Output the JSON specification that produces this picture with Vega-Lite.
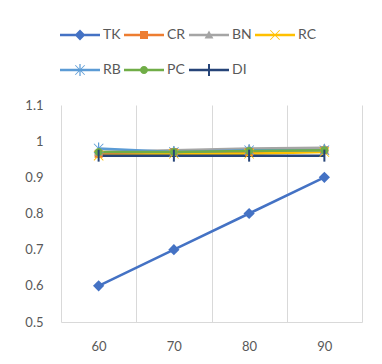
{
  "$schema": "https://vega.github.io/schema/vega-lite/v6.json",
  "width": 301,
  "height": 217,
  "autosize": {"type": "none"},
  "padding": {"left": 61, "top": 105, "right": 20, "bottom": 42},
  "background": "white",
  "data": {
    "values": [
      {"s": "TK", "x": 60, "v": 0.6}, {"s": "TK", "x": 70, "v": 0.7}, {"s": "TK", "x": 80, "v": 0.8}, {"s": "TK", "x": 90, "v": 0.9},
      {"s": "CR", "x": 60, "v": 0.965}, {"s": "CR", "x": 70, "v": 0.97}, {"s": "CR", "x": 80, "v": 0.97}, {"s": "CR", "x": 90, "v": 0.975},
      {"s": "BN", "x": 60, "v": 0.97}, {"s": "BN", "x": 70, "v": 0.975}, {"s": "BN", "x": 80, "v": 0.98}, {"s": "BN", "x": 90, "v": 0.982},
      {"s": "RC", "x": 60, "v": 0.96}, {"s": "RC", "x": 70, "v": 0.965}, {"s": "RC", "x": 80, "v": 0.965}, {"s": "RC", "x": 90, "v": 0.97},
      {"s": "RB", "x": 60, "v": 0.98}, {"s": "RB", "x": 70, "v": 0.97}, {"s": "RB", "x": 80, "v": 0.975}, {"s": "RB", "x": 90, "v": 0.975},
      {"s": "PC", "x": 60, "v": 0.97}, {"s": "PC", "x": 70, "v": 0.97}, {"s": "PC", "x": 80, "v": 0.973}, {"s": "PC", "x": 90, "v": 0.975},
      {"s": "DI", "x": 60, "v": 0.96}, {"s": "DI", "x": 70, "v": 0.96}, {"s": "DI", "x": 80, "v": 0.96}, {"s": "DI", "x": 90, "v": 0.96}
    ]
  },
  "encoding": {
    "x": {
      "field": "x", "type": "ordinal",
      "scale": {"paddingInner": 0, "paddingOuter": 0},
      "axis": {
        "title": null, "labelAngle": 0, "tickBand": "extent", "grid": true, "gridColor": "#d9d9d9", "gridWidth": 1,
        "ticks": false, "domainColor": "#d9d9d9", "labelPadding": 18, "labelColor": "#595959", "labelFontSize": 13, "labelFont": "Lato"
      }
    },
    "y": {
      "field": "v", "type": "quantitative",
      "scale": {"domain": [0.5, 1.1], "zero": false},
      "axis": {
        "title": null, "values": [0.5, 0.6, 0.7, 0.8, 0.9, 1, 1.1], "format": "~g", "grid": false, "domain": false, "ticks": false,
        "labelPadding": 18, "labelColor": "#595959", "labelFontSize": 13, "labelFont": "Lato"
      }
    },
    "color": {
      "field": "s", "type": "nominal",
      "scale": {"domain": ["TK", "CR", "BN", "RC", "RB", "PC", "DI"], "range": ["#4472C4", "#ED7D31", "#A5A5A5", "#FFC000", "#5B9BD5", "#70AD47", "#264478"]},
      "legend": null
    }
  },
  "layer": [
    {
      "mark": {"type": "line", "strokeWidth": 2.5}
    },
    {
      "mark": {"type": "point", "filled": true, "size": 1600, "opacity": 1},
      "encoding": {
        "shape": {
          "field": "s", "type": "nominal",
          "scale": {
            "domain": ["TK", "CR", "BN", "RC", "RB", "PC", "DI"],
            "range": [
              "M0,-0.28L0.28,0L0,0.28L-0.28,0Z",
              "M-0.2,-0.2H0.2V0.2H-0.2Z",
              "M0,-0.22L0.22,0.18L-0.22,0.18Z",
              "M-0.25,-0.22L-0.22,-0.25L0.25,0.22L0.22,0.25Z M0.22,-0.25L0.25,-0.22L-0.22,0.25L-0.25,0.22Z",
              "M-0.25,-0.22L-0.22,-0.25L0.25,0.22L0.22,0.25Z M0.22,-0.25L0.25,-0.22L-0.22,0.25L-0.25,0.22Z M-0.03,-0.3H0.03V0.3H-0.03Z",
              "M-0.2,0A0.2,0.2 0 1 1 0.2,0A0.2,0.2 0 1 1 -0.2,0Z",
              "M-0.05,-0.3H0.05V0.3H-0.05Z"
            ]
          },
          "legend": null
        }
      }
    },
    {
      "transform": [{"filter": "false"}],
      "mark": {"type": "point", "filled": true, "size": 1600, "opacity": 1},
      "encoding": {
        "color": {
          "field": "s", "type": "nominal",
          "scale": {"domain": ["TK", "CR", "BN", "RC", "RB", "PC", "DI"], "range": ["#4472C4", "#ED7D31", "#A5A5A5", "#FFC000", "#5B9BD5", "#70AD47", "#264478"]},
          "legend": {
            "title": null, "orient": "none", "legendX": -1, "legendY": -90, "direction": "horizontal", "columns": 4,
            "symbolSize": 1600, "symbolOpacity": 1, "symbolStrokeWidth": 0, "columnPadding": 3, "rowPadding": 8,
            "labelOffset": 3, "labelFontSize": 14, "labelColor": "#595959", "labelFont": "Lato", "padding": 0
          }
        },
        "shape": {
          "field": "s", "type": "nominal",
          "scale": {
            "domain": ["TK", "CR", "BN", "RC", "RB", "PC", "DI"],
            "range": [
              "M-1,-0.06H1V0.06H-1Z M0,-0.27L0.27,0L0,0.27L-0.27,0Z",
              "M-1,-0.06H1V0.06H-1Z M-0.2,-0.2H0.2V0.2H-0.2Z",
              "M-1,-0.06H1V0.06H-1Z M0,-0.22L0.22,0.18L-0.22,0.18Z",
              "M-1,-0.06H1V0.06H-1Z M-0.25,-0.22L-0.22,-0.25L0.25,0.22L0.22,0.25Z M0.22,-0.25L0.25,-0.22L-0.22,0.25L-0.25,0.22Z",
              "M-1,-0.06H1V0.06H-1Z M-0.25,-0.22L-0.22,-0.25L0.25,0.22L0.22,0.25Z M0.22,-0.25L0.25,-0.22L-0.22,0.25L-0.25,0.22Z M-0.03,-0.3H0.03V0.3H-0.03Z",
              "M-1,-0.06H1V0.06H-1Z M-0.2,0A0.2,0.2 0 1 1 0.2,0A0.2,0.2 0 1 1 -0.2,0Z",
              "M-1,-0.06H1V0.06H-1Z M-0.05,-0.3H0.05V0.3H-0.05Z"
            ]
          },
          "legend": {
            "title": null, "orient": "none", "legendX": -1, "legendY": -90, "direction": "horizontal", "columns": 4,
            "symbolSize": 1600, "symbolOpacity": 1, "symbolStrokeWidth": 0, "columnPadding": 3, "rowPadding": 8,
            "labelOffset": 3, "labelFontSize": 14, "labelColor": "#595959", "labelFont": "Lato", "padding": 0
          }
        }
      }
    }
  ],
  "resolve": {"scale": {"shape": "independent"}, "legend": {"color": "independent", "shape": "independent"}},
  "config": {"view": {"stroke": null}}
}
